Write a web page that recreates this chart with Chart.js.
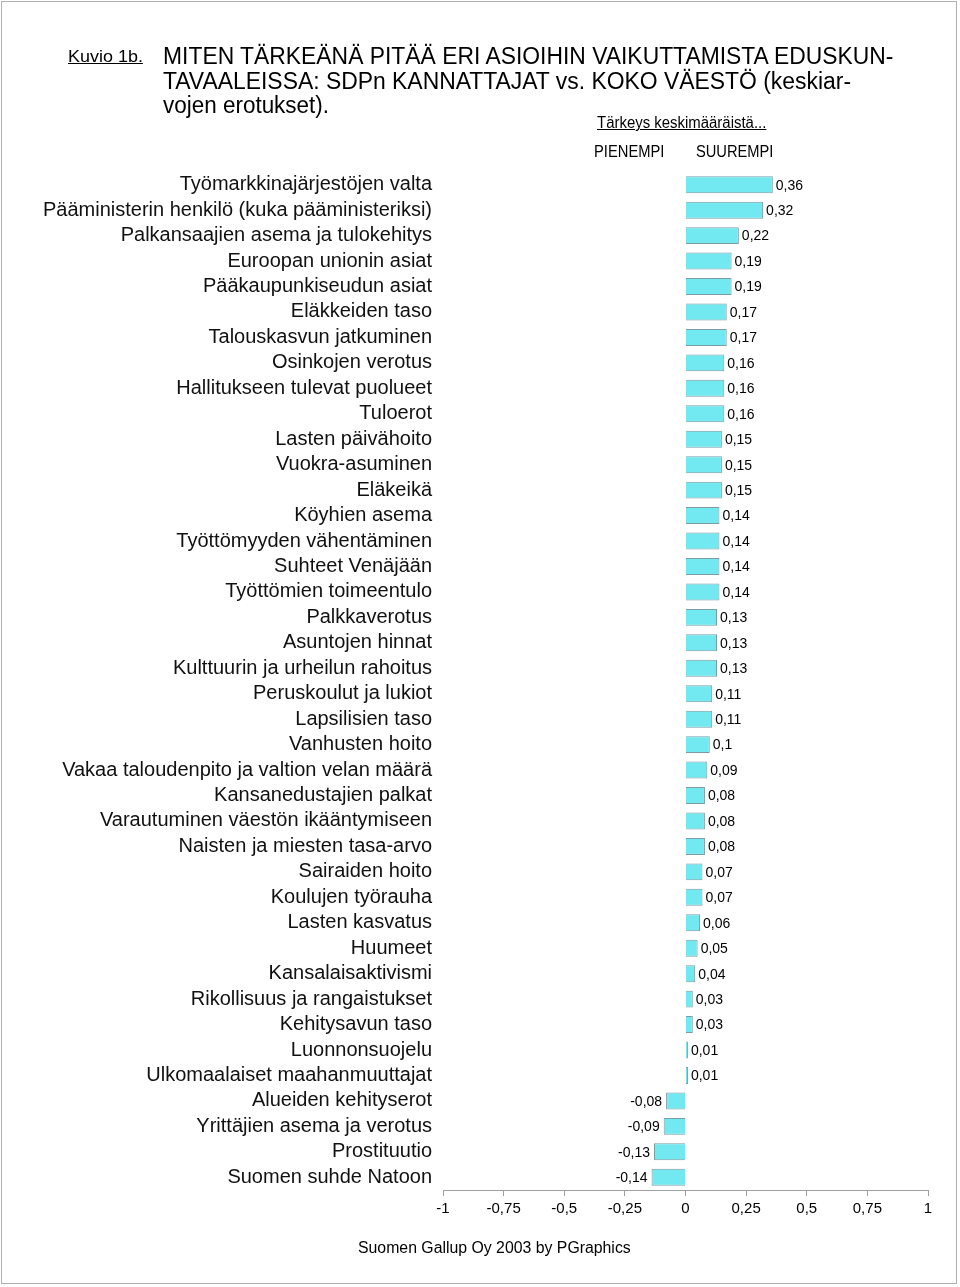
<!DOCTYPE html>
<html>
<head>
<meta charset="utf-8">
<script src="https://cdn.jsdelivr.net/npm/chart.js@4.4.1/dist/chart.umd.min.js"></script>
<style>
  html, body { margin: 0; padding: 0; background: #fff; }
  #wrap { position: relative; width: 960px; height: 1287px; overflow: hidden; }
  #frame { position: absolute; left: 1px; top: 1px; width: 956px; height: 1283px; border: 1px solid #b0b0b0; box-sizing: border-box; pointer-events: none; }
  canvas { position: absolute; left: 0; top: 0; }
  .t { position: absolute; white-space: nowrap; font-family: "Liberation Sans", Arial, sans-serif; color: #000; transform-origin: 0 0; line-height: 1; }
</style>
</head>
<body>
<div id="wrap">
  <canvas id="c" width="960" height="1287"></canvas>
  <div id="frame"></div>
  <div class="t fit" data-w="75" style="left:68px; top:48px; font-size:17px; text-decoration:underline;">Kuvio 1b.</div>
  <div class="t fit" data-w="730" style="left:163px; top:45px; font-size:23px;">MITEN TÄRKEÄNÄ PITÄÄ ERI ASIOIHIN VAIKUTTAMISTA EDUSKUN-</div>
  <div class="t fit" data-w="688" style="left:163px; top:70px; font-size:23px;">TAVAALEISSA: SDPn KANNATTAJAT vs. KOKO VÄESTÖ (keskiar-</div>
  <div class="t fit" data-w="166" style="left:163px; top:94px; font-size:23px;">vojen erotukset).</div>
  <div class="t fit" data-w="169" style="left:597px; top:115px; font-size:16px; text-decoration:underline;">Tärkeys keskimääräistä...</div>
  <div class="t fit" data-w="70" style="left:594px; top:144px; font-size:16px;">PIENEMPI</div>
  <div class="t fit" data-w="77" style="left:696px; top:144px; font-size:16px;">SUUREMPI</div>
  <div class="t fit" data-w="273" style="left:358px; top:1240px; font-size:16px;">Suomen Gallup Oy 2003 by PGraphics</div>
</div>
<script>
const categories = [
  "Työmarkkinajärjestöjen valta",
  "Pääministerin henkilö (kuka pääministeriksi)",
  "Palkansaajien asema ja tulokehitys",
  "Euroopan unionin asiat",
  "Pääkaupunkiseudun asiat",
  "Eläkkeiden taso",
  "Talouskasvun jatkuminen",
  "Osinkojen verotus",
  "Hallitukseen tulevat puolueet",
  "Tuloerot",
  "Lasten päivähoito",
  "Vuokra-asuminen",
  "Eläkeikä",
  "Köyhien asema",
  "Työttömyyden vähentäminen",
  "Suhteet Venäjään",
  "Työttömien toimeentulo",
  "Palkkaverotus",
  "Asuntojen hinnat",
  "Kulttuurin ja urheilun rahoitus",
  "Peruskoulut ja lukiot",
  "Lapsilisien taso",
  "Vanhusten hoito",
  "Vakaa taloudenpito ja valtion velan määrä",
  "Kansanedustajien palkat",
  "Varautuminen väestön ikääntymiseen",
  "Naisten ja miesten tasa-arvo",
  "Sairaiden hoito",
  "Koulujen työrauha",
  "Lasten kasvatus",
  "Huumeet",
  "Kansalaisaktivismi",
  "Rikollisuus ja rangaistukset",
  "Kehitysavun taso",
  "Luonnonsuojelu",
  "Ulkomaalaiset maahanmuuttajat",
  "Alueiden kehityserot",
  "Yrittäjien asema ja verotus",
  "Prostituutio",
  "Suomen suhde Natoon"
];
const differences = [
  0.36, 0.32, 0.22, 0.19, 0.19, 0.17, 0.17, 0.16, 0.16, 0.16,
  0.15, 0.15, 0.15, 0.14, 0.14, 0.14, 0.14, 0.13, 0.13, 0.13,
  0.11, 0.11, 0.10, 0.09, 0.08, 0.08, 0.08, 0.07, 0.07, 0.06,
  0.05, 0.04, 0.03, 0.03, 0.01, 0.01, -0.08, -0.09, -0.13, -0.14
];
const xTickValues = [-1, -0.75, -0.5, -0.25, 0, 0.25, 0.5, 0.75, 1];

function fmt(v) { return String(v).replace('.', ','); }

document.querySelectorAll('.fit').forEach(el => {
  const w = +el.dataset.w;
  const s = w / el.scrollWidth;
  el.style.transform = 'scaleX(' + s + ')';
});

const valueLabels = {
  id: 'valueLabels',
  afterDatasetsDraw(chart) {
    const ctx = chart.ctx;
    const meta = chart.getDatasetMeta(0);
    ctx.save();
    ctx.font = '14px "Liberation Sans", Arial, sans-serif';
    ctx.fillStyle = '#000';
    ctx.textBaseline = 'middle';
    meta.data.forEach((bar, i) => {
      const v = chart.data.datasets[0].data[i];
      if (v >= 0) {
        ctx.textAlign = 'left';
        ctx.fillText(fmt(v), bar.x + 3, bar.y + 1);
      } else {
        ctx.textAlign = 'right';
        ctx.fillText(fmt(v), bar.x - 4, bar.y + 1);
      }
    });
    ctx.restore();
  }
};

new Chart(document.getElementById('c'), {
  type: 'bar',
  data: {
    labels: categories,
    datasets: [{
      data: differences,
      backgroundColor: '#72E8F0',
      borderColor: '#7A9CA2',
      borderWidth: 1,
      barPercentage: 0.74,
      categoryPercentage: 0.9
    }]
  },
  options: {
    indexAxis: 'y',
    responsive: false,
    animation: false,
    devicePixelRatio: 1,
    layout: { padding: { left: 0, right: 32, top: 172, bottom: 57 } },
    plugins: { legend: { display: false }, tooltip: { enabled: false } },
    scales: {
      x: {
        min: -1, max: 1,
        afterBuildTicks(scale) { scale.ticks = xTickValues.map(v => ({ value: v })); },
        afterFit(scale) { scale.height = 40; },
        ticks: {
          callback: v => fmt(v),
          font: { family: '"Liberation Sans", Arial, sans-serif', size: 15 },
          color: '#000',
          padding: 4,
          maxRotation: 0,
          autoSkip: false
        },
        grid: { drawOnChartArea: false, drawTicks: true, tickLength: 6, color: '#a0a0a0' },
        border: { display: true, color: '#a0a0a0' }
      },
      y: {
        afterFit(scale) { scale.width = 443; },
        ticks: {
          font: { family: '"Liberation Sans", Arial, sans-serif', size: 20 },
          color: '#111',
          padding: 3,
          autoSkip: false
        },
        grid: { display: false },
        border: { display: false }
      }
    }
  },
  plugins: [valueLabels]
});
</script>
</body>
</html>
